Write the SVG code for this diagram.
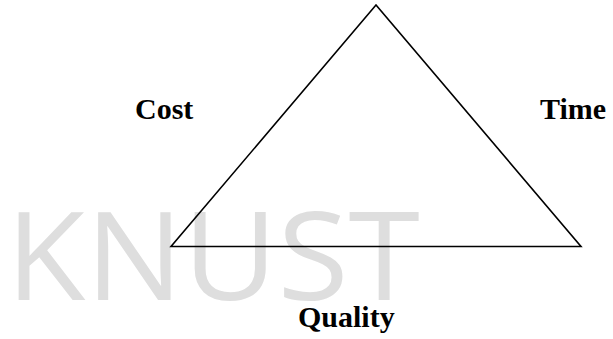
<svg xmlns="http://www.w3.org/2000/svg" width="613" height="339" viewBox="0 0 613 339">
  <style>
    .label { font-family: "Liberation Serif", "Times New Roman", serif; font-weight: bold; font-size: 30px; fill: #000; }
    .mark { font-family: "Open Sans", "Liberation Sans", sans-serif; font-size: 122px; fill: #dedede; }
    .edge { fill: none; stroke: #000; stroke-width: 1.6; stroke-linejoin: miter; }
  </style>
  <rect width="613" height="339" fill="#fff"/>
  <!-- background watermark -->
  <text class="mark" x="6" y="300" textLength="414" lengthAdjust="spacingAndGlyphs">KNUST</text>
  <!-- triangle -->
  <g id="connectors">
    <polygon class="edge" points="376,5 171,246.5 581,246.5"/>
  </g>
  <g id="cost"><text class="label" x="135" y="119">Cost</text></g>
  <g id="time"><text class="label" x="540" y="119">Time</text></g>
  <g id="quality"><text class="label" x="298" y="327">Quality</text></g>
</svg>
